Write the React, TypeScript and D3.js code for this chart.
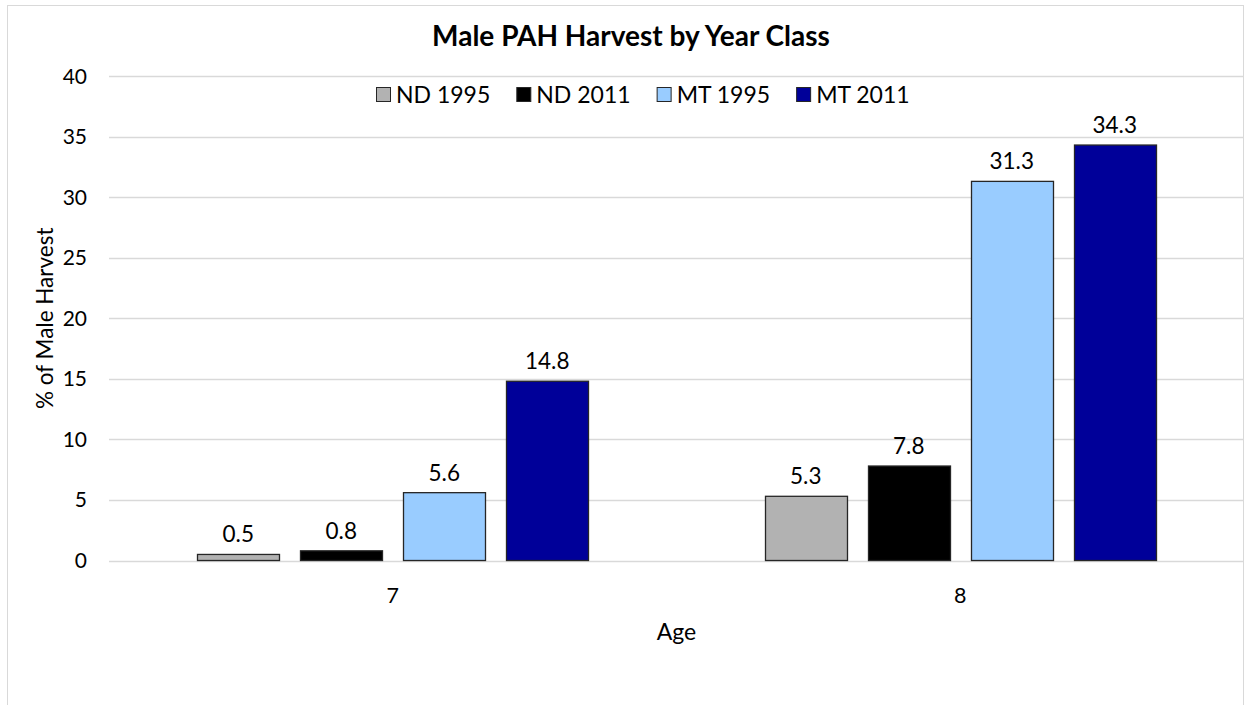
import React, { useEffect, useRef } from "react";
import * as d3 from "d3";

const ages = ["7", "8"];
const seriesNames = ["ND 1995", "ND 2011", "MT 1995", "MT 2011"];
const seriesColors = ["#B2B2B2", "#000000", "#99CCFF", "#000099"];
const values = [
  [0.5, 5.3],
  [0.8, 7.8],
  [5.6, 31.3],
  [14.8, 34.3],
];
const yTicks = [0, 5, 10, 15, 20, 25, 30, 35, 40];

const FONT = "Lato, 'Open Sans', sans-serif";

const App = () => {
  const chartRef = useRef<HTMLDivElement>(null);

  useEffect(() => {
    document.body.style.margin = "0";
    const width = 1250;
    const height = 705;
    const margin = { top: 76, right: 6, bottom: 143, left: 109 };

    const svg = d3
      .select(chartRef.current)
      .append("svg")
      .attr("width", width)
      .attr("height", height)
      .style("display", "block")
      .style("font-family", FONT);

    svg.append("rect").attr("width", width).attr("height", height).attr("fill", "#fff");

    // outer chart frame
    svg
      .append("rect")
      .attr("x", 7.5)
      .attr("y", 5.5)
      .attr("width", 1236)
      .attr("height", 720)
      .attr("fill", "none")
      .attr("stroke", "#d9d9d9")
      .attr("stroke-width", 1);

    const x0 = d3
      .scaleBand()
      .domain(ages)
      .range([margin.left, width - margin.right])
      .padding(0);

    const innerPad = 21 / 103;
    const outerPad = (x0.bandwidth() / 103 - (seriesNames.length - innerPad)) / 2;
    const x1 = d3
      .scaleBand()
      .domain(seriesNames)
      .range([0, x0.bandwidth()])
      .paddingInner(innerPad)
      .paddingOuter(outerPad);

    const y = d3
      .scaleLinear()
      .domain([0, 40])
      .range([height - margin.bottom - 1.5, margin.top]);

    // gridlines
    svg
      .selectAll(".grid")
      .data(yTicks)
      .enter()
      .append("line")
      .attr("class", "grid")
      .attr("x1", margin.left)
      .attr("x2", width - margin.right)
      .attr("y1", (d) => Math.round(y(d)) + 0.5)
      .attr("y2", (d) => Math.round(y(d)) + 0.5)
      .attr("stroke", "#d9d9d9")
      .attr("stroke-width", 1.5);

    // y tick labels
    svg
      .selectAll(".ytick")
      .data(yTicks)
      .enter()
      .append("text")
      .attr("class", "ytick")
      .attr("x", 87)
      .attr("y", (d) => y(d))
      .attr("dy", "0.36em")
      .attr("text-anchor", "end")
      .attr("font-size", 21)
      .attr("fill", "#000")
      .text((d) => d);

    // bars
    const groups = svg
      .selectAll(".grp")
      .data(seriesNames)
      .enter()
      .append("g")
      .attr("class", "grp");

    groups.each(function (name, si) {
      const g = d3.select(this);
      ages.forEach((age, ai) => {
        const v = values[si][ai];
        const bx = x0(age)! + x1(name)!;
        g.append("rect")
          .attr("x", Math.round(bx) + 0.5)
          .attr("y", y(v))
          .attr("width", x1.bandwidth())
          .attr("height", y(0) - y(v))
          .attr("fill", seriesColors[si])
          .attr("stroke", "#262626")
          .attr("stroke-width", 1.3);
        g.append("text")
          .attr("x", bx + x1.bandwidth() / 2)
          .attr("y", y(v) - 12)
          .attr("text-anchor", "middle")
          .attr("font-size", 22.5)
          .attr("fill", "#000")
          .text(v.toFixed(1));
      });
    });

    // x category labels
    svg
      .selectAll(".xtick")
      .data(ages)
      .enter()
      .append("text")
      .attr("class", "xtick")
      .attr("x", (d) => x0(d)! + x0.bandwidth() / 2)
      .attr("y", 603)
      .attr("text-anchor", "middle")
      .attr("font-size", 21.5)
      .text((d) => d);

    // axis titles
    svg
      .append("text")
      .attr("x", (margin.left + width - margin.right) / 2)
      .attr("y", 640)
      .attr("text-anchor", "middle")
      .attr("font-size", 23)
      .text("Age");

    svg
      .append("text")
      .attr("transform", `translate(53, ${(y(0) + y(40)) / 2}) rotate(-90)`)
      .attr("text-anchor", "middle")
      .attr("font-size", 22.5)
      .text("% of Male Harvest");

    // title
    svg
      .append("text")
      .attr("x", 631)
      .attr("y", 46)
      .attr("text-anchor", "middle")
      .attr("font-size", 28)
      .attr("font-weight", "bold")
      .text("Male PAH Harvest by Year Class");

    // legend
    const legend = svg.append("g");
    let lx = 376;
    seriesNames.forEach((name, i) => {
      legend
        .append("rect")
        .attr("x", lx + 0.5)
        .attr("y", 87.5)
        .attr("width", 14)
        .attr("height", 14)
        .attr("fill", seriesColors[i])
        .attr("stroke", "#262626")
        .attr("stroke-width", 1);
      const t = legend
        .append("text")
        .attr("x", lx + 20)
        .attr("y", 103)
        .attr("font-size", 23)
        .text(name);
      const w = (t.node() as SVGTextElement).getComputedTextLength();
      lx = lx + 20 + w + 26;
    });

    return () => {
      svg.remove();
    };
  }, []);

  return <div ref={chartRef}></div>;
};

export default App;
